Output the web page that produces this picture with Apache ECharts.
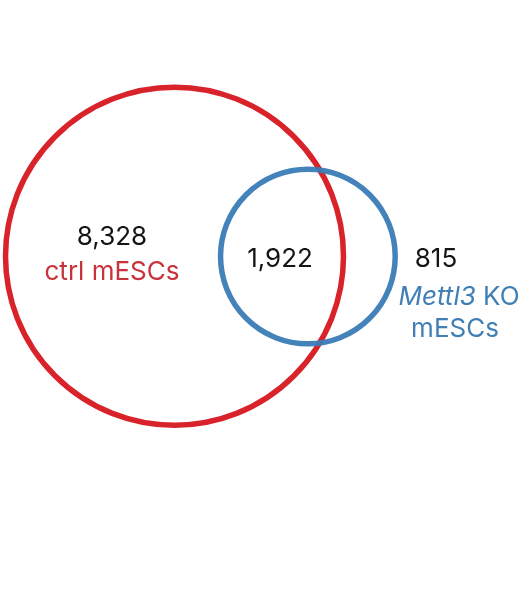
<!DOCTYPE html>
<html><head><meta charset="utf-8">
<script src="https://cdn.jsdelivr.net/npm/echarts@6/dist/echarts.min.js"></script>
<style>html,body{margin:0;padding:0;background:#fff}#c{width:532px;height:602px}</style>
</head><body><div id="c"></div>
<script>
// ---- data ----
const setNames = ['ctrl mESCs', 'Mettl3 KO mESCs'];
const onlyCounts = [8328, 815];      // only in ctrl, only in Mettl3 KO
const sharedCount = 1922;             // in both
const setTotals = [onlyCounts[0] + sharedCount, onlyCounts[1] + sharedCount];

// ---- layout (pixel-based coordinate system on a hidden cartesian grid) ----
const W = 532, H = 602;
const bigCenter = [174.5, 256.2];
const bigRadius = 169;
const k = bigRadius / Math.sqrt(setTotals[0]);     // area-proportional scale
const radii = setTotals.map(t => k * Math.sqrt(t));

function lensArea(r1, r2, d) {
  if (d >= r1 + r2) return 0;
  if (d <= Math.abs(r1 - r2)) return Math.PI * Math.min(r1, r2) ** 2;
  const a = r1 * r1 * Math.acos((d * d + r1 * r1 - r2 * r2) / (2 * d * r1));
  const b = r2 * r2 * Math.acos((d * d + r2 * r2 - r1 * r1) / (2 * d * r2));
  const c = 0.5 * Math.sqrt((-d + r1 + r2) * (d + r1 - r2) * (d - r1 + r2) * (d + r1 + r2));
  return a + b - c;
}
const targetOverlap = Math.PI * k * k * sharedCount;
let lo = Math.abs(radii[0] - radii[1]), hi = radii[0] + radii[1];
for (let i = 0; i < 80; i++) {
  const mid = (lo + hi) / 2;
  if (lensArea(radii[0], radii[1], mid) > targetOverlap) lo = mid; else hi = mid;
}
const dist = (lo + hi) / 2;
const centers = [bigCenter, [bigCenter[0] + dist, bigCenter[1] + 0.3]];

const circleColors = ['#d9232b', '#3a7cb6'];
const textColors = ['#c8323a', '#3f7fb6'];

const circleData = centers.map((c, i) => [c[0], c[1], radii[i], i]);

const fmt = n => n.toLocaleString('en-US');
const FONT = 'Inter, "Noto Sans", sans-serif';
const FS = 26;

const chart = echarts.init(document.getElementById('c'));
chart.setOption({
  animation: false,
  backgroundColor: '#fff',
  grid: { left: 0, right: 0, top: 0, bottom: 0 },
  xAxis: { type: 'value', min: 0, max: W, show: false },
  yAxis: { type: 'value', min: 0, max: H, inverse: true, show: false },
  series: [
    {
      type: 'custom',
      coordinateSystem: 'cartesian2d',
      data: circleData,
      renderItem: function (params, api) {
        const c = api.coord([api.value(0), api.value(1)]);
        const r = api.size([api.value(2), api.value(2)])[0];
        const idx = api.value(3);
        return {
          type: 'circle',
          shape: { cx: c[0], cy: c[1], r: r },
          style: { fill: 'none', stroke: circleColors[idx], lineWidth: 5.5, opacity: idx === 1 ? 0.95 : 1 }
        };
      }
    },
    {
      type: 'custom',
      coordinateSystem: 'cartesian2d',
      data: [0],
      renderItem: function (params, api) {
        const p = (x, y) => api.coord([x, y]);
        const txt = (pt, text, fill) => ({
          type: 'text', x: pt[0], y: pt[1],
          style: { text: text, fill: fill, font: '400 ' + FS + 'px ' + FONT, align: 'center', verticalAlign: 'middle' }
        });
        const a = p(112, 237), aL = p(112, 272);
        const s = p(280, 259);
        const b = p(436, 259), bL1 = p(459, 297), bL2 = p(455, 329);
        return {
          type: 'group',
          children: [
            txt(a, fmt(onlyCounts[0]), '#141414'),
            txt(aL, setNames[0], textColors[0]),
            txt(s, fmt(sharedCount), '#141414'),
            txt(b, fmt(onlyCounts[1]), '#141414'),
            {
              type: 'text', x: bL1[0], y: bL1[1],
              style: {
                text: '{i|Mettl3} {n|KO}', align: 'center', verticalAlign: 'middle',
                rich: {
                  i: { fontFamily: FONT, fontSize: FS, fontStyle: 'italic', fill: textColors[1], color: textColors[1] },
                  n: { fontFamily: FONT, fontSize: FS, fill: textColors[1], color: textColors[1] }
                },
                font: '400 ' + FS + 'px ' + FONT, fill: textColors[1]
              }
            },
            txt(bL2, setNames[1].replace('Mettl3 KO ', ''), textColors[1])
          ]
        };
      }
    }
  ]
});
</script>
</body></html>
